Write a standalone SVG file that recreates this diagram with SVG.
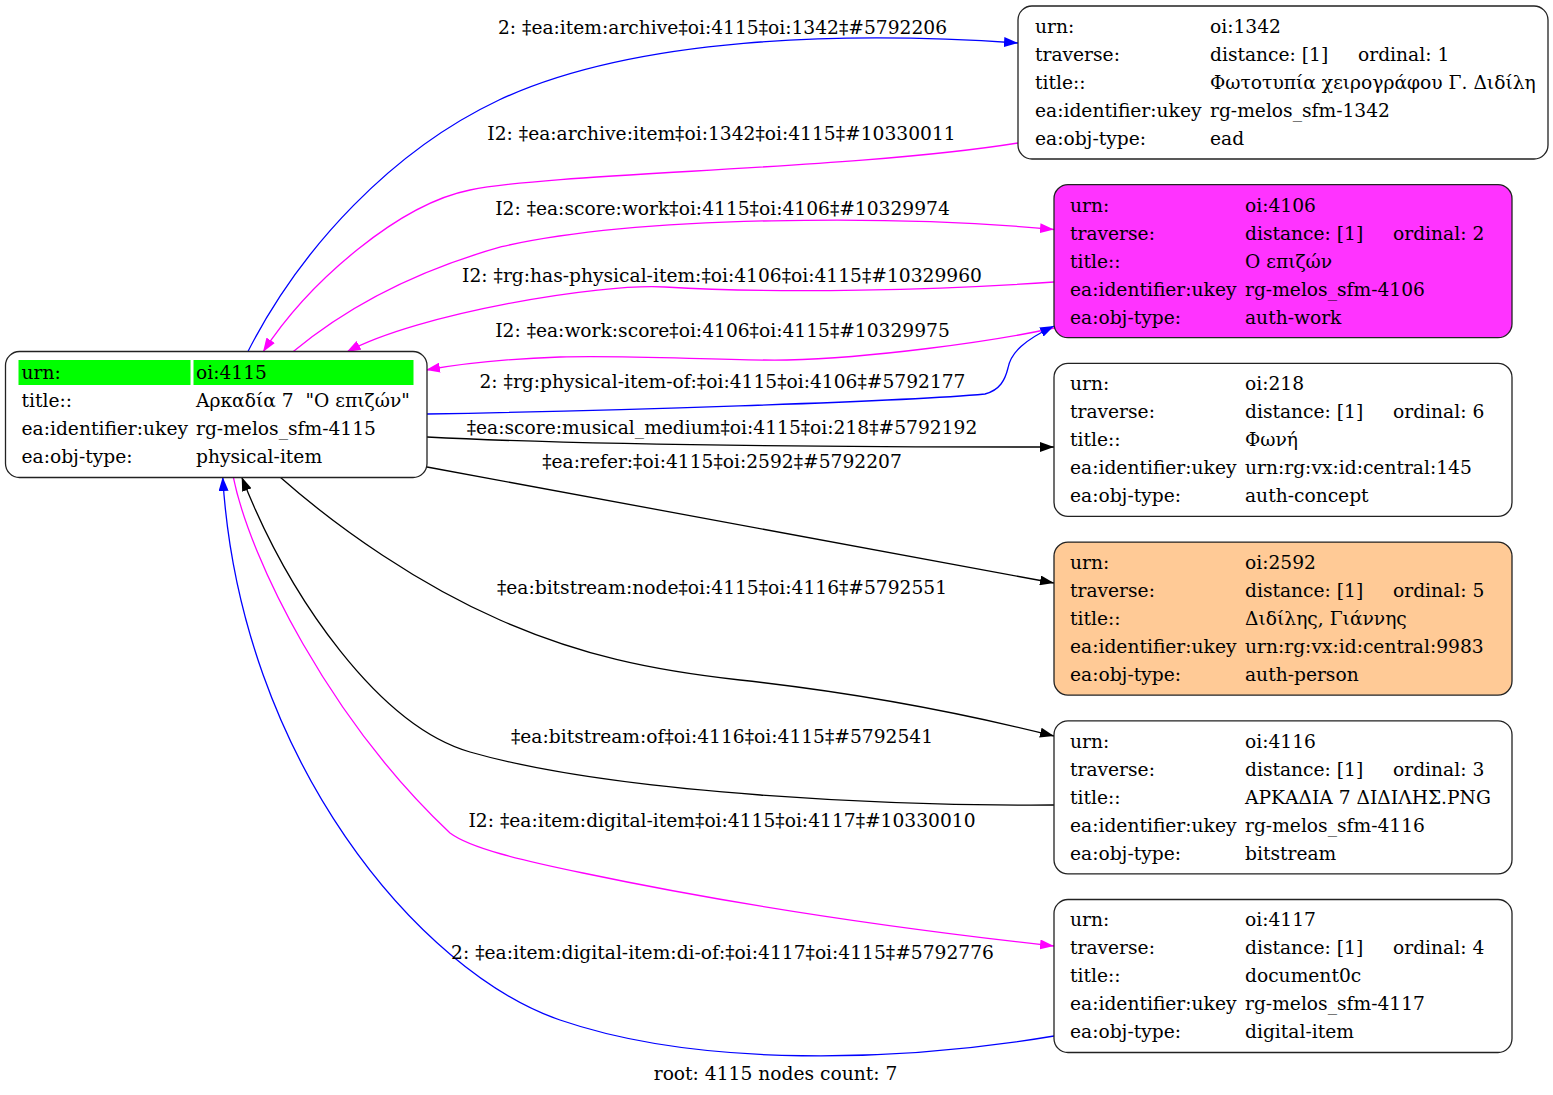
<svg xmlns="http://www.w3.org/2000/svg" width="1553" height="1095" viewBox="0 0 1553 1095">
<style>
text{font-family:"DejaVu Serif","Liberation Serif",serif;font-size:18.67px;fill:#000;white-space:pre}
.lbl{text-anchor:middle}
.box{stroke:#222;stroke-width:1.3}
.e{fill:none;stroke-width:1.3}
.b{stroke:#0000ff}
.m{stroke:#ff00ff}
.k{stroke:#000}
</style>
<defs>
<marker id="ab" markerUnits="userSpaceOnUse" markerWidth="14" markerHeight="10" refX="14" refY="5" orient="auto"><path d="M0,0 L14,5 L0,10 z" fill="#0000ff"/></marker>
<marker id="am" markerUnits="userSpaceOnUse" markerWidth="14" markerHeight="10" refX="14" refY="5" orient="auto"><path d="M0,0 L14,5 L0,10 z" fill="#ff00ff"/></marker>
<marker id="ak" markerUnits="userSpaceOnUse" markerWidth="14" markerHeight="10" refX="14" refY="5" orient="auto"><path d="M0,0 L14,5 L0,10 z" fill="#000"/></marker>
</defs>
<rect width="1553" height="1095" fill="#fff"/>

<g id="connectors">
<path class="e b" marker-end="url(#ab)" d="M247.7,352 C301,247 393,150 499,100 C634,37 843,31 1018,43"/>
<path class="e m" marker-end="url(#am)" d="M1018,143 C850,170 560,172 470,190 C400,204 310,280 263,352"/>
<path class="e m" marker-end="url(#am)" d="M292.7,352 C352.8,302 426.6,267.7 501.6,246.7 C640,215 900,215 1054,229.5"/>
<path class="e m" marker-end="url(#am)" d="M1054,282 C940,290 780,294 665,287 C600,283 417,313.6 346.7,352"/>
<path class="e m" marker-end="url(#am)" d="M1054,328 C990,342 870,358 787,360 C720,361 640,355 560,357 C500,359 460,364 426,370"/>
<path class="e b" marker-end="url(#ab)" d="M427,414 C600,411 900,402 985,394 C1000,390 1005,380 1008,368 C1011,352 1025,340 1054,326"/>
<path class="e k" marker-end="url(#ak)" d="M427,437 C600,446 850,447 1054,447"/>
<path class="e k" marker-end="url(#ak)" d="M427,467 L1054,583"/>
<path class="e k" marker-end="url(#ak)" d="M280,477 C340,530 420,585 500,620 C580,655 650,670 740,680 C850,692 950,710 1054,736"/>
<path class="e k" marker-end="url(#ak)" d="M1054,805 C900,806 620,795 470,752 C380,726 290,600 241.7,477"/>
<path class="e m" marker-end="url(#am)" d="M233.3,477 C250,560 330,720 450,833 C470,848 520,860 583,873 C740,906 900,929 1054,946"/>
<path class="e b" marker-end="url(#ab)" d="M1054,1036 C900,1062 700,1068 560,1020 C420,972 240,760 222.7,477"/>
<text class="lbl" x="722.5" y="34">2: ‡ea:item:archive‡oi:4115‡oi:1342‡#5792206</text>
<text class="lbl" x="721.5" y="140">I2: ‡ea:archive:item‡oi:1342‡oi:4115‡#10330011</text>
<text class="lbl" x="722.5" y="215">I2: ‡ea:score:work‡oi:4115‡oi:4106‡#10329974</text>
<text class="lbl" x="722" y="282">I2: ‡rg:has-physical-item:‡oi:4106‡oi:4115‡#10329960</text>
<text class="lbl" x="722.5" y="337">I2: ‡ea:work:score‡oi:4106‡oi:4115‡#10329975</text>
<text class="lbl" x="722.5" y="388">2: ‡rg:physical-item-of:‡oi:4115‡oi:4106‡#5792177</text>
<text class="lbl" x="722" y="434">‡ea:score:musical_medium‡oi:4115‡oi:218‡#5792192</text>
<text class="lbl" x="722" y="468">‡ea:refer:‡oi:4115‡oi:2592‡#5792207</text>
<text class="lbl" x="722" y="594">‡ea:bitstream:node‡oi:4115‡oi:4116‡#5792551</text>
<text class="lbl" x="722" y="743">‡ea:bitstream:of‡oi:4116‡oi:4115‡#5792541</text>
<text class="lbl" x="722" y="827">I2: ‡ea:item:digital-item‡oi:4115‡oi:4117‡#10330010</text>
<text class="lbl" x="722.5" y="959">2: ‡ea:item:digital-item:di-of:‡oi:4117‡oi:4115‡#5792776</text>
</g>

<g id="node-4115">
<rect class="box" x="5.5" y="351.5" width="421.5" height="126" rx="14" fill="#fff"/>
<rect x="18.5" y="360" width="172" height="25" fill="#00ff00"/>
<rect x="193.5" y="360" width="220" height="25" fill="#00ff00"/>
<text x="21.5" y="378.5">urn:</text><text x="196" y="378.5">oi:4115</text>
<text x="21.5" y="406.5">title::</text><text x="196" y="406.5" xml:space="preserve">Αρκαδία 7  "Ο επιζών"</text>
<text x="21.5" y="434.5">ea:identifier:ukey</text><text x="196" y="434.5">rg-melos_sfm-4115</text>
<text x="21.5" y="462.5">ea:obj-type:</text><text x="196" y="462.5">physical-item</text>
</g>

<g id="node-1342">
<rect class="box" x="1018" y="6" width="530" height="153" rx="14" fill="#fff"/>
<text x="1035" y="33">urn:</text><text x="1210" y="33">oi:1342</text>
<text x="1035" y="61">traverse:</text><text x="1210" y="61">distance: [1]</text><text x="1358" y="61">ordinal: 1</text>
<text x="1035" y="89">title::</text><text x="1210" y="89">Φωτοτυπία χειρογράφου Γ. Διδίλη</text>
<text x="1035" y="117">ea:identifier:ukey</text><text x="1210" y="117">rg-melos_sfm-1342</text>
<text x="1035" y="145">ea:obj-type:</text><text x="1210" y="145">ead</text>
</g>

<g id="node-4106">
<rect class="box" x="1054" y="184.7" width="458" height="153" rx="14" fill="#ff33ff"/>
<text x="1070" y="211.5">urn:</text><text x="1245" y="211.5">oi:4106</text>
<text x="1070" y="239.5">traverse:</text><text x="1245" y="239.5">distance: [1]</text><text x="1393" y="239.5">ordinal: 2</text>
<text x="1070" y="267.5">title::</text><text x="1245" y="267.5">Ο επιζών</text>
<text x="1070" y="295.5">ea:identifier:ukey</text><text x="1245" y="295.5">rg-melos_sfm-4106</text>
<text x="1070" y="323.5">ea:obj-type:</text><text x="1245" y="323.5">auth-work</text>
</g>

<g id="node-218">
<rect class="box" x="1054" y="363.4" width="458" height="153" rx="14" fill="#fff"/>
<text x="1070" y="390">urn:</text><text x="1245" y="390">oi:218</text>
<text x="1070" y="418">traverse:</text><text x="1245" y="418">distance: [1]</text><text x="1393" y="418">ordinal: 6</text>
<text x="1070" y="446">title::</text><text x="1245" y="446">Φωνή</text>
<text x="1070" y="474">ea:identifier:ukey</text><text x="1245" y="474">urn:rg:vx:id:central:145</text>
<text x="1070" y="502">ea:obj-type:</text><text x="1245" y="502">auth-concept</text>
</g>

<g id="node-2592">
<rect class="box" x="1054" y="542.1" width="458" height="153" rx="14" fill="#ffca96"/>
<text x="1070" y="569">urn:</text><text x="1245" y="569">oi:2592</text>
<text x="1070" y="597">traverse:</text><text x="1245" y="597">distance: [1]</text><text x="1393" y="597">ordinal: 5</text>
<text x="1070" y="625">title::</text><text x="1245" y="625">Διδίλης, Γιάννης</text>
<text x="1070" y="653">ea:identifier:ukey</text><text x="1245" y="653">urn:rg:vx:id:central:9983</text>
<text x="1070" y="681">ea:obj-type:</text><text x="1245" y="681">auth-person</text>
</g>

<g id="node-4116">
<rect class="box" x="1054" y="720.8" width="458" height="153" rx="14" fill="#fff"/>
<text x="1070" y="747.5">urn:</text><text x="1245" y="747.5">oi:4116</text>
<text x="1070" y="775.5">traverse:</text><text x="1245" y="775.5">distance: [1]</text><text x="1393" y="775.5">ordinal: 3</text>
<text x="1070" y="803.5">title::</text><text x="1245" y="803.5">ΑΡΚΑΔΙΑ 7 ΔΙΔΙΛΗΣ.PNG</text>
<text x="1070" y="831.5">ea:identifier:ukey</text><text x="1245" y="831.5">rg-melos_sfm-4116</text>
<text x="1070" y="859.5">ea:obj-type:</text><text x="1245" y="859.5">bitstream</text>
</g>

<g id="node-4117">
<rect class="box" x="1054" y="899.5" width="458" height="153" rx="14" fill="#fff"/>
<text x="1070" y="926">urn:</text><text x="1245" y="926">oi:4117</text>
<text x="1070" y="954">traverse:</text><text x="1245" y="954">distance: [1]</text><text x="1393" y="954">ordinal: 4</text>
<text x="1070" y="982">title::</text><text x="1245" y="982">document0c</text>
<text x="1070" y="1010">ea:identifier:ukey</text><text x="1245" y="1010">rg-melos_sfm-4117</text>
<text x="1070" y="1038">ea:obj-type:</text><text x="1245" y="1038">digital-item</text>
</g>

<text class="lbl" x="775.5" y="1080">root: 4115 nodes count: 7</text>
</svg>
